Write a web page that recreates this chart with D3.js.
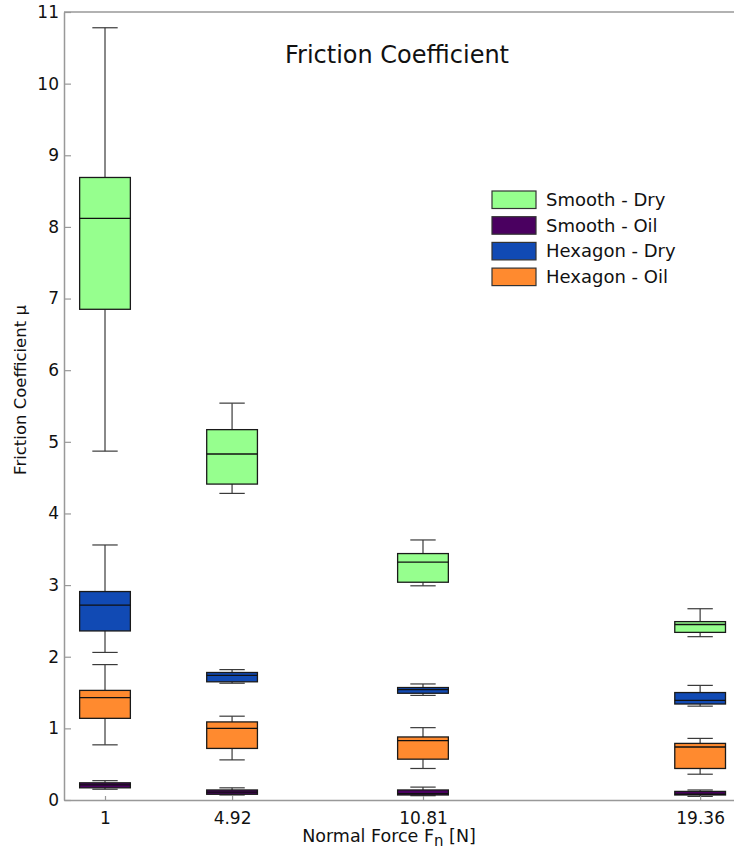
<!DOCTYPE html>
<html>
<head>
<meta charset="utf-8">
<script src="https://cdn.jsdelivr.net/npm/d3@7"></script>
<style>
  html, body { margin: 0; padding: 0; background: #fff; }
  svg { display: block; font-family: "DejaVu Sans", sans-serif; }
</style>
</head>
<body>
<svg id="chart" width="734" height="854"></svg>
<script>
// Normal force levels (N)
const forces = [1, 4.92, 10.81, 19.36];
const forceLabels = ["1", "4.92", "10.81", "19.36"];

// Series names and fills
const seriesNames = ["Smooth - Dry", "Smooth - Oil", "Hexagon - Dry", "Hexagon - Oil"];
const seriesColors = ["#96ff8e", "#4a0060", "#114ab4", "#ff8a2f"];

// Box statistics per force level: [whiskerLow, q1, median, q3, whiskerHigh]
const smoothDry = [
  [4.87, 6.85, 8.12, 8.69, 10.78],
  [4.28, 4.41, 4.83, 5.17, 5.54],
  [2.99, 3.04, 3.32, 3.44, 3.63],
  [2.28, 2.34, 2.45, 2.49, 2.67]
];
const smoothOil = [
  [0.15, 0.17, 0.21, 0.24, 0.27],
  [0.07, 0.08, 0.11, 0.14, 0.17],
  [0.06, 0.07, 0.09, 0.14, 0.18],
  [0.05, 0.07, 0.08, 0.12, 0.14]
];
const hexagonDry = [
  [2.06, 2.36, 2.72, 2.91, 3.56],
  [1.63, 1.65, 1.74, 1.78, 1.82],
  [1.46, 1.49, 1.54, 1.57, 1.62],
  [1.31, 1.34, 1.39, 1.50, 1.60]
];
const hexagonOil = [
  [0.77, 1.14, 1.43, 1.53, 1.89],
  [0.56, 0.72, 1.00, 1.09, 1.17],
  [0.44, 0.57, 0.83, 0.88, 1.01],
  [0.36, 0.44, 0.74, 0.79, 0.86]
];
const seriesStats = [smoothDry, smoothOil, hexagonDry, hexagonOil];

const yTicks = [0, 1, 2, 3, 4, 5, 6, 7, 8, 9, 10, 11];

const svg = d3.select("#chart");
const plotLeft = 64, plotRight = 740, plotTop = 12, plotBottom = 800;

const x = d3.scaleLinear().domain([-0.265, 20.59]).range([plotLeft, plotRight]);
const y = d3.scaleLinear().domain([0, 11]).range([plotBottom, plotTop]);
const boxW = 1.565;   // box width in force units

// Boxes
const g = svg.append("g");
seriesStats.forEach((stats, si) => {
  stats.forEach((s, fi) => {
    const cx = x(forces[fi]);
    const hw = (x(forces[fi] + boxW / 2) - x(forces[fi] - boxW / 2)) / 2;
    const capHw = hw / 2;
    const [lo, q1, med, q3, hi] = s;
    const bg = g.append("g");
    // whiskers
    bg.append("line").attr("x1", cx).attr("x2", cx).attr("y1", y(q3)).attr("y2", y(hi))
      .attr("stroke", "#3a3a3a").attr("stroke-width", 1.2);
    bg.append("line").attr("x1", cx).attr("x2", cx).attr("y1", y(q1)).attr("y2", y(lo))
      .attr("stroke", "#3a3a3a").attr("stroke-width", 1.2);
    // caps
    [lo, hi].forEach(v => {
      bg.append("line").attr("x1", cx - capHw).attr("x2", cx + capHw)
        .attr("y1", y(v)).attr("y2", y(v))
        .attr("stroke", "#3a3a3a").attr("stroke-width", 1.2);
    });
    // box
    bg.append("rect").attr("x", cx - hw).attr("width", hw * 2)
      .attr("y", y(q3)).attr("height", Math.max(0.5, y(q1) - y(q3)))
      .attr("fill", seriesColors[si]).attr("stroke", "#1a1a1a").attr("stroke-width", 1.3);
    // median
    bg.append("line").attr("x1", cx - hw).attr("x2", cx + hw)
      .attr("y1", y(med)).attr("y2", y(med))
      .attr("stroke", "#111").attr("stroke-width", 1.3);
  });
});

// Axes (ticks point inward)
const yAxis = d3.axisLeft(y).tickValues(yTicks).tickSizeInner(-7).tickSizeOuter(0).tickPadding(5);
const yg = svg.append("g").attr("transform", `translate(${plotLeft},0)`).call(yAxis);
yg.select(".domain").attr("stroke", "#999").attr("stroke-width", 1.5);
yg.selectAll(".tick line").attr("stroke", "#999").attr("stroke-width", 1.2);
yg.selectAll(".tick text").attr("font-size", 17).attr("fill", "#111")
  .attr("font-family", "DejaVu Sans");

const xAxis = d3.axisBottom(x).tickValues(forces).tickFormat((d, i) => forceLabels[i])
  .tickSizeInner(-4).tickSizeOuter(0).tickPadding(12);
const xg = svg.append("g").attr("transform", `translate(0,${plotBottom})`).call(xAxis);
xg.select(".domain").attr("stroke", "#999").attr("stroke-width", 1.5);
xg.selectAll(".tick line").attr("stroke", "#999").attr("stroke-width", 1.2);
xg.selectAll(".tick text").attr("font-size", 17).attr("fill", "#111")
  .attr("font-family", "DejaVu Sans");

// top spine
svg.append("line").attr("x1", plotLeft).attr("x2", plotRight).attr("y1", plotTop).attr("y2", plotTop)
  .attr("stroke", "#999").attr("stroke-width", 1.5);

// Title
svg.append("text").attr("x", 397).attr("y", 63).attr("text-anchor", "middle")
  .attr("font-size", 24).attr("fill", "#111").text("Friction Coefficient");

// Axis labels
const xl = svg.append("text").attr("x", 389).attr("y", 842).attr("text-anchor", "middle")
  .attr("font-size", 17.5).attr("fill", "#111");
xl.append("tspan").text("Normal Force F");
xl.append("tspan").attr("dy", 4).attr("font-size", 15).text("n");
xl.append("tspan").attr("dy", -4).text(" [N]");

svg.append("text").attr("transform", "translate(26,390) rotate(-90)")
  .attr("text-anchor", "middle").attr("font-size", 16.5).attr("fill", "#111")
  .text("Friction Coefficient μ");

// Legend
const lg = svg.append("g").attr("transform", "translate(492,191)");
seriesNames.forEach((name, i) => {
  const row = lg.append("g").attr("transform", `translate(0,${i * 25.7})`);
  row.append("rect").attr("width", 44).attr("height", 17.5)
    .attr("fill", seriesColors[i]).attr("stroke", "#333").attr("stroke-width", 1.2);
  row.append("text").attr("x", 54).attr("y", 15).attr("font-size", 18)
    .attr("fill", "#111").text(name);
});
</script>
</body>
</html>
